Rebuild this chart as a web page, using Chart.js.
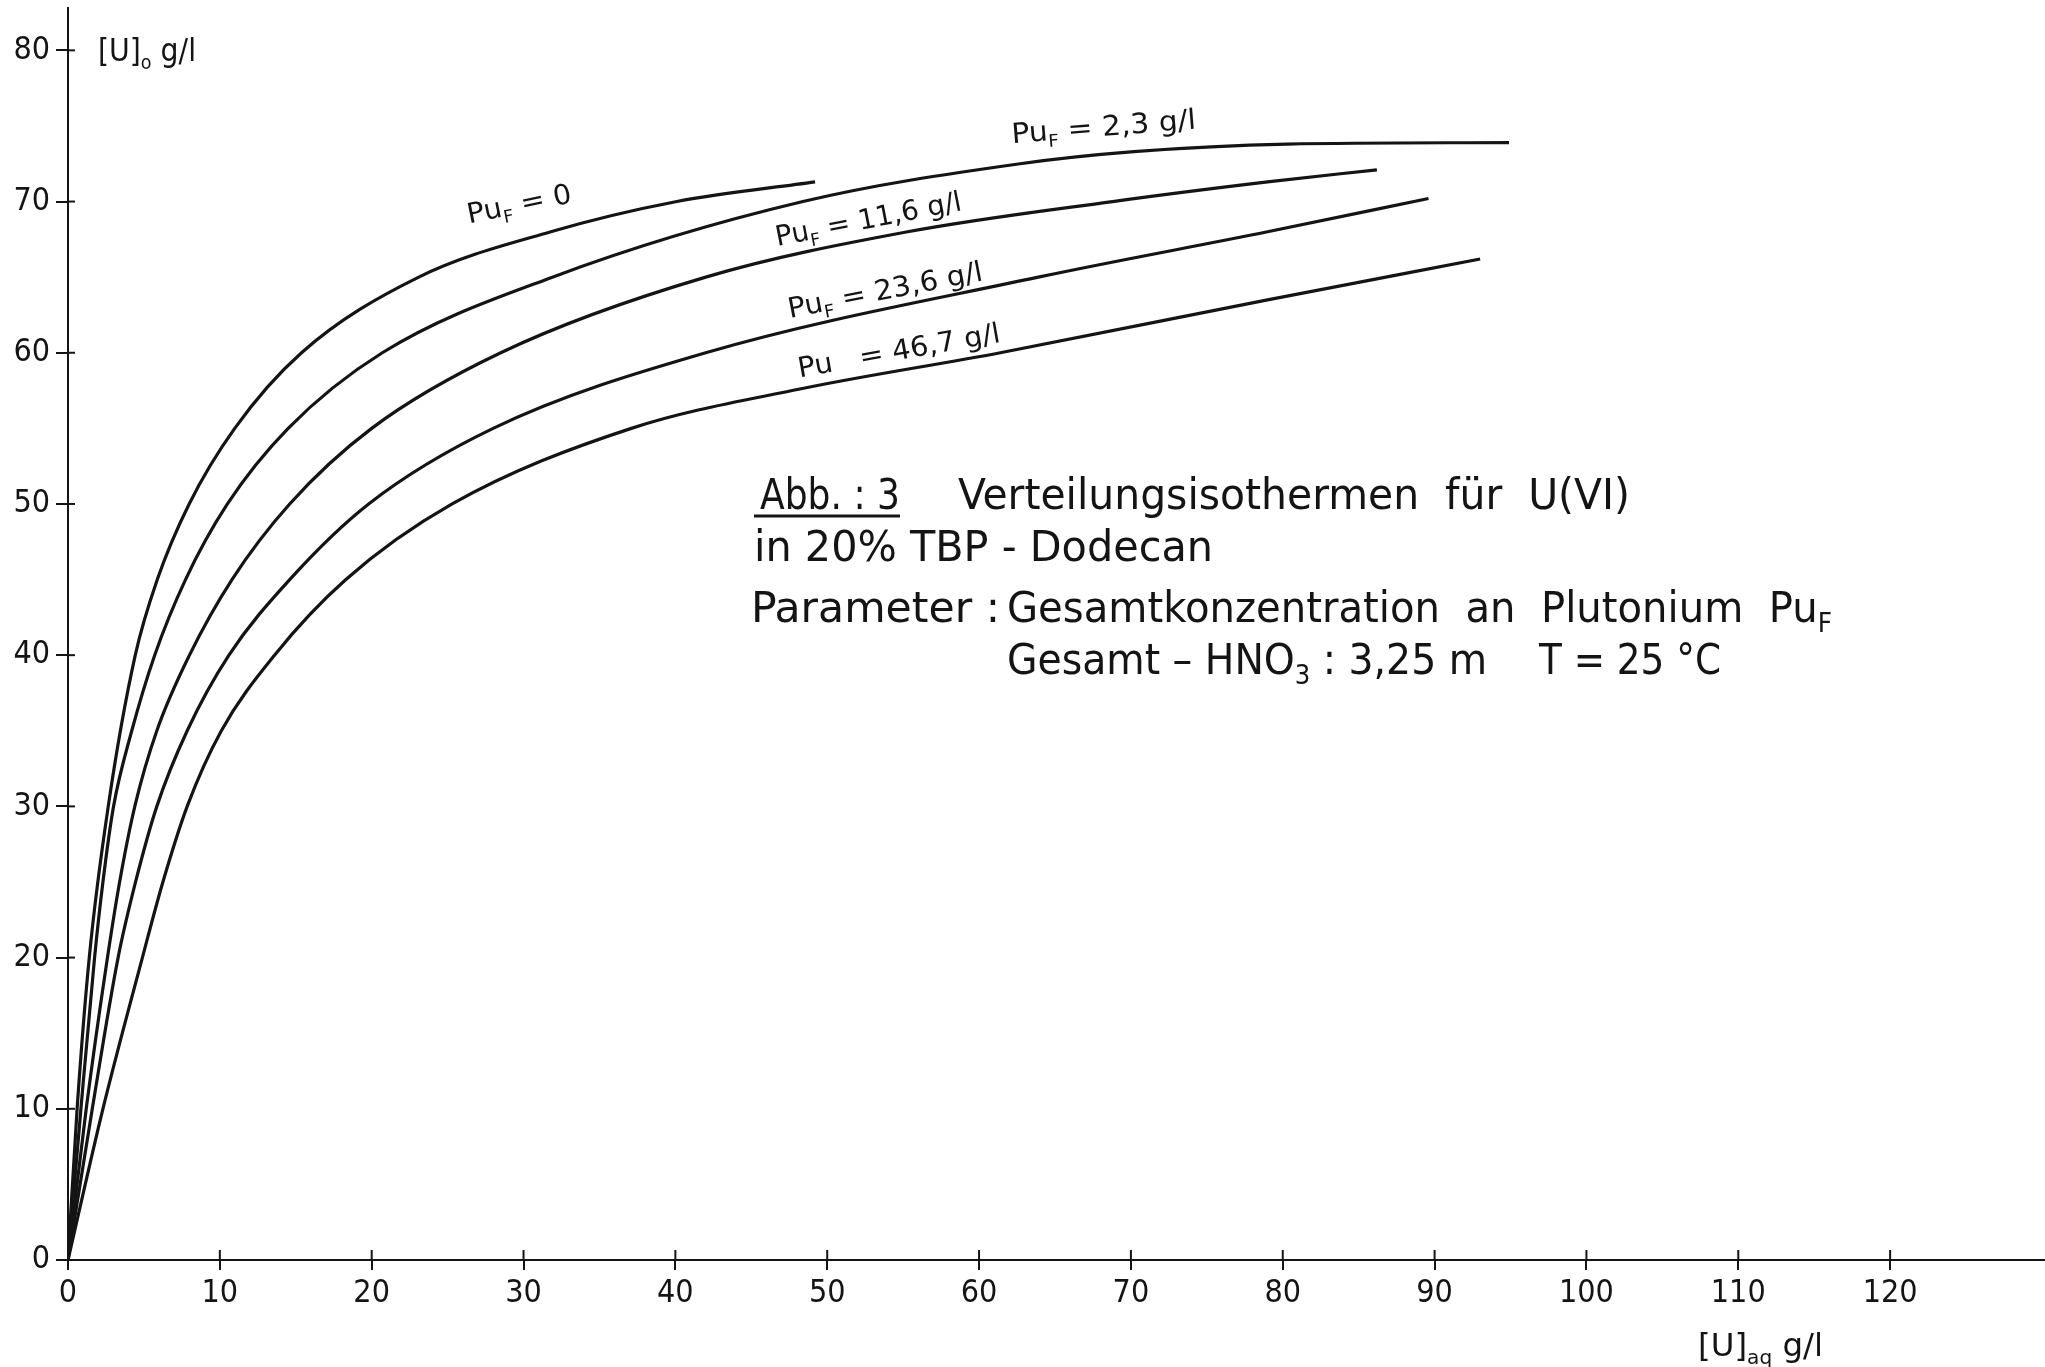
<!DOCTYPE html>
<html>
<head>
<meta charset="utf-8">
<script src="https://cdn.jsdelivr.net/npm/chart.js@4.4.1/dist/chart.umd.min.js"></script>
<style>
  html, body { margin: 0; padding: 0; background: #fff; }
</style>
</head>
<body>
<canvas id="chart" width="2045" height="1367"></canvas>
<script>
// Data ---------------------------------
// [U]aq g/l  ->  [U]o g/l, one pair of arrays per Pu_F curve
const puF0X = [0, 0.6, 1.4, 2.65, 4.43, 5.88, 7.98, 10.98, 15.38, 23.1, 31.8, 40.1, 49.2];
const puF0Y = [0, 10, 20, 30, 40, 45, 50, 55, 60, 65, 68, 70, 71.3];

const puF23X = [0, 0.85, 1.75, 2.3, 3.0, 4.2, 5.71, 7.74, 10.5, 14.5, 20.7, 31.9, 48.4, 62.7, 70.2, 80.3, 94.9];
const puF23Y = [0, 10, 20, 25, 30, 35, 40, 45, 50, 55, 60, 65, 70, 72.5, 73.3, 73.8, 73.9];

const puF116X = [0, 1.2, 2.6, 3.4, 4.4, 5.85, 8.0, 10.8, 14.6, 20.0, 28.5, 42.0, 55.3, 68.8, 79.0, 86.2];
const puF116Y = [0, 10, 20, 25, 30, 35, 40, 45, 50, 55, 60, 65, 68, 70, 71.3, 72.1];

const puF236X = [0, 1.6, 3.3, 4.45, 5.85, 7.85, 10.6, 14.6, 19.8, 28.0, 42.0, 63.9, 79.0, 89.6];
const puF236Y = [0, 10, 20, 25, 30, 35, 40, 45, 50, 55, 60, 65, 68, 70.2];

const pu467X = [0, 2.3, 4.9, 6.25, 7.85, 10.1, 13.6, 18.3, 25.3, 37.1, 48.2, 61.4, 79.0, 93.0];
const pu467Y = [0, 10, 20, 25, 30, 35, 40, 45, 50, 55, 57.6, 60, 63.5, 66.2];

const seriesNames = ['Pu_{F} = 0', 'Pu_{F} = 2,3 g/l', 'Pu_{F} = 11,6 g/l', 'Pu_{F} = 23,6 g/l', 'Pu   = 46,7 g/l'];
const xTicks = [0, 10, 20, 30, 40, 50, 60, 70, 80, 90, 100, 110, 120];
const yTicks = [0, 10, 20, 30, 40, 50, 60, 70, 80];

// Look ---------------------------------
const FONT = "'DejaVu Sans Condensed', 'Liberation Sans Narrow', 'DejaVu Sans', sans-serif";
const INK = '#141414';

// curve labels, anchored in data units (centre of text), angle in degrees, target length px
const curveNotes = [
  { name: seriesNames[0], x: 29.7, y: 69.9, angle: -11.5, w: 106 },
  { name: seriesNames[1], x: 68.2, y: 75.0, angle: -4.5, w: 185 },
  { name: seriesNames[2], x: 52.7, y: 68.9, angle: -11, w: 189 },
  { name: seriesNames[3], x: 53.8, y: 64.2, angle: -11, w: 198 },
  { name: seriesNames[4], x: 54.7, y: 60.2, angle: -10, w: 205 },
];

// caption block and axis titles in canvas pixels (left, baseline, width)
const caption = [
  { text: 'Abb. : 3', x: 760, y: 509, w: 140, size: 42, underline: true },
  { text: 'Verteilungsisothermen  für  U(VI)', x: 958, y: 509, w: 672, size: 42 },
  { text: 'in 20% TBP - Dodecan', x: 754, y: 561, w: 459, size: 42 },
  { text: 'Parameter :', x: 751, y: 622, w: 249, size: 42 },
  { text: 'Gesamtkonzentration  an  Plutonium  Pu_{F}', x: 1007, y: 622, w: 825, size: 42 },
  { text: 'Gesamt – HNO_{3} : 3,25 m', x: 1007, y: 674, w: 480, size: 42 },
  { text: 'T = 25 °C', x: 1539, y: 674, w: 182, size: 42 },
  { text: '[U]_{o} g/l', x: 98, y: 61, w: 98, size: 32 },
  { text: '[U]_{aq} g/l', x: 1698, y: 1356, w: 125, size: 32 },
];

// Helpers ------------------------------
const parseParts = str =>
  str.split(/(_\{[^}]*\})/).filter(Boolean).map(s =>
    s.startsWith('_{') ? { t: s.slice(2, -1), sub: true } : { t: s, sub: false });

const partsWidth = (ctx, parts, size) =>
  parts.reduce((w, p) => {
    ctx.font = `${p.sub ? size * 0.62 : size}px ${FONT}`;
    return w + ctx.measureText(p.t).width;
  }, 0);

const drawParts = (ctx, parts, x, y, size) => {
  let cx = x;
  parts.forEach(p => {
    const s = p.sub ? size * 0.62 : size;
    ctx.font = `${s}px ${FONT}`;
    ctx.fillText(p.t, cx, y + (p.sub ? size * 0.24 : 0));
    cx += ctx.measureText(p.t).width;
  });
};

// draws text stretched to a given width
const drawFitted = (ctx, str, x, y, size, w) => {
  const parts = parseParts(str);
  const natural = partsWidth(ctx, parts, size);
  ctx.save();
  ctx.translate(x, y);
  ctx.scale(w / natural, 1);
  drawParts(ctx, parts, 0, 0, size);
  ctx.restore();
};

const notesPlugin = {
  id: 'notes',
  afterDraw(chart) {
    const { ctx, scales: { x, y } } = chart;
    ctx.save();
    ctx.fillStyle = INK;
    ctx.strokeStyle = INK;
    ctx.textBaseline = 'alphabetic';

    // tick marks poke through the axes
    ctx.lineWidth = 2;
    const axisX = x.getPixelForValue(0);
    const axisY = y.getPixelForValue(0);
    yTicks.forEach(v => {
      const py = y.getPixelForValue(v);
      ctx.beginPath(); ctx.moveTo(axisX, py); ctx.lineTo(axisX + 7, py); ctx.stroke();
    });
    xTicks.forEach(v => {
      const px = x.getPixelForValue(v);
      ctx.beginPath(); ctx.moveTo(px, axisY); ctx.lineTo(px, axisY - 10); ctx.stroke();
    });

    // curve labels
    curveNotes.forEach(n => {
      const px = x.getPixelForValue(n.x);
      const py = y.getPixelForValue(n.y);
      ctx.save();
      ctx.translate(px, py);
      ctx.rotate(n.angle * Math.PI / 180);
      drawFitted(ctx, n.name, -n.w / 2, 10, 28, n.w);
      ctx.restore();
    });

    // caption
    caption.forEach(c => {
      drawFitted(ctx, c.text, c.x, c.y, c.size, c.w);
      if (c.underline) {
        ctx.lineWidth = 3;
        ctx.beginPath(); ctx.moveTo(c.x - 6, c.y + 7); ctx.lineTo(c.x + c.w, c.y + 7); ctx.stroke();
      }
    });
    ctx.restore();
  },
};

const toPoints = (xs, ys) => xs.map((v, i) => ({ x: v, y: ys[i] }));

const curve = (xs, ys, label) => ({
  label,
  data: toPoints(xs, ys),
  borderColor: INK,
  borderWidth: 3.2,
  pointRadius: 0,
  fill: false,
  cubicInterpolationMode: 'monotone',
});

// Chart --------------------------------
new Chart(document.getElementById('chart'), {
  type: 'line',
  data: {
    datasets: [
      curve(puF0X, puF0Y, seriesNames[0]),
      curve(puF23X, puF23Y, seriesNames[1]),
      curve(puF116X, puF116Y, seriesNames[2]),
      curve(puF236X, puF236Y, seriesNames[3]),
      curve(pu467X, pu467Y, seriesNames[4]),
    ],
  },
  options: {
    responsive: false,
    animation: false,
    layout: { padding: { top: 8, left: 0, right: 0, bottom: 0 } },
    plugins: { legend: { display: false }, tooltip: { enabled: false } },
    scales: {
      x: {
        type: 'linear',
        min: 0,
        max: 130.2,
        afterBuildTicks: scale => { scale.ticks = xTicks.map(v => ({ value: v })); },
        afterFit: scale => { scale.height = 107; scale.paddingRight = 0; },
        grid: { drawOnChartArea: false, drawTicks: true, tickLength: 10, color: INK, lineWidth: 2 },
        border: { display: true, color: INK, width: 2 },
        ticks: { color: INK, padding: 4, maxRotation: 0, font: { family: FONT, size: 32 } },
      },
      y: {
        type: 'linear',
        min: 0,
        max: 82.8,
        afterBuildTicks: scale => { scale.ticks = yTicks.map(v => ({ value: v })); },
        afterFit: scale => { scale.width = 68; scale.paddingTop = 0; scale.paddingBottom = 0; },
        grid: { drawOnChartArea: false, drawTicks: true, tickLength: 12, color: INK, lineWidth: 2 },
        border: { display: true, color: INK, width: 2 },
        ticks: { color: INK, padding: 6, font: { family: FONT, size: 32 } },
      },
    },
  },
  plugins: [notesPlugin],
});
</script>
</body>
</html>
